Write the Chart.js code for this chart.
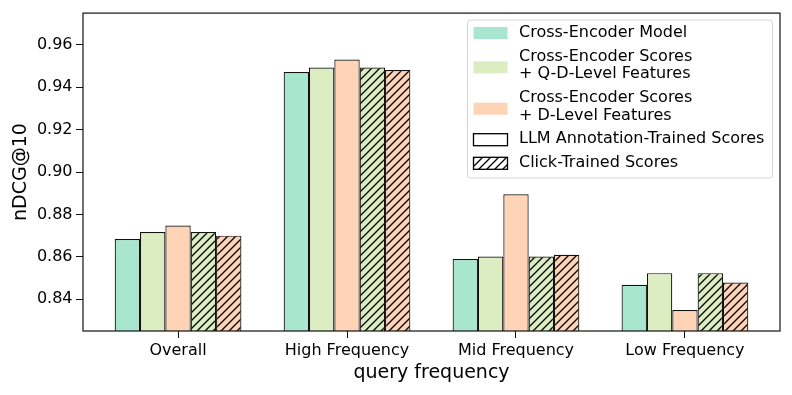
<!DOCTYPE html>
<html>
<head>
<meta charset="utf-8">
<script src="https://cdn.jsdelivr.net/npm/chart.js@4"></script>
<style>
  html, body { margin: 0; padding: 0; background: #fff; }
  #wrap { width: 792px; height: 395px; }
</style>
</head>
<body>
<div id="wrap"><canvas id="chart" width="792" height="395"></canvas></div>
<script>
// query frequency buckets
const groups = ['Overall', 'High Frequency', 'Mid Frequency', 'Low Frequency'];
// nDCG@10 per bucket
const crossEncoder = [0.8684, 0.9472, 0.8590, 0.8468];
const qdLevelLlm   = [0.8717, 0.9493, 0.8601, 0.8523];
const dLevelLlm    = [0.8748, 0.9531, 0.8895, 0.8349];
const qdLevelClick = [0.8717, 0.9493, 0.8601, 0.8523];
const dLevelClick  = [0.8700, 0.9481, 0.8610, 0.8479];
const yTicks = [0.84, 0.86, 0.88, 0.90, 0.92, 0.94, 0.96];

const legendItems = [
  { text: ['Cross-Encoder Model'], kind: 'fill', color: '#a8e6cf' },
  { text: ['Cross-Encoder Scores', '+ Q-D-Level Features'], kind: 'fill', color: '#dcedc1' },
  { text: ['Cross-Encoder Scores', '+ D-Level Features'], kind: 'fill', color: '#ffd3b6' },
  { text: ['LLM Annotation-Trained Scores'], kind: 'empty' },
  { text: ['Click-Trained Scores'], kind: 'hatch' }
];

const FONT = '"DejaVu Sans", sans-serif';
const canvas = document.querySelector('#chart');
const ctx = canvas.getContext('2d');

function hatch(color) {
  const c = document.createElement('canvas');
  c.width = 8; c.height = 8;
  const g = c.getContext('2d');
  g.fillStyle = color;
  g.fillRect(0, 0, 8, 8);
  g.strokeStyle = '#000';
  g.lineWidth = 1.3;
  g.beginPath();
  g.moveTo(0, 8); g.lineTo(8, 0);
  g.moveTo(-2, 2); g.lineTo(2, -2);
  g.moveTo(6, 10); g.lineTo(10, 6);
  g.stroke();
  return ctx.createPattern(c, 'repeat');
}

function pts(arr) {
  return arr.map((v, i) => ({ x: i, y: v }));
}

function ds(label, arr, bg) {
  return {
    label: label,
    data: pts(arr),
    backgroundColor: bg,
    borderColor: '#111',
    borderWidth: 1.2,
    borderSkipped: false
  };
}

const framePlugin = {
  id: 'frame',
  afterDatasetsDraw(chart) {
    const a = chart.chartArea;
    const c = chart.ctx;
    c.save();
    c.strokeStyle = '#111';
    c.lineWidth = 1.2;
    c.strokeRect(a.left, a.top, a.right - a.left, a.bottom - a.top);
    c.restore();
  }
};

const legendPlugin = {
  id: 'boxLegend',
  afterDraw(chart) {
    const c = chart.ctx;
    c.save();
    const bx = 467.5, by = 20, bw = 305, bh = 158, r = 3;
    c.beginPath();
    c.roundRect(bx, by, bw, bh, r);
    c.fillStyle = 'rgba(255,255,255,0.85)';
    c.fill();
    c.strokeStyle = '#d4d4d4';
    c.lineWidth = 1;
    c.stroke();

    const swX = 473.5, swW = 34, swH = 12;
    const textX = 519;
    const swY = [33, 67.3, 108.7, 139.7, 163.3];
    const lineY = [[33.3], [56.7, 74], [98.3, 115.7], [139.3], [163.3]];
    c.font = '16px ' + FONT;
    c.textBaseline = 'middle';
    c.textAlign = 'left';
    legendItems.forEach((it, i) => {
      const y0 = swY[i] - swH / 2;
      if (it.kind === 'fill') {
        c.fillStyle = it.color;
        c.fillRect(swX, y0, swW, swH);
      } else if (it.kind === 'empty') {
        c.fillStyle = '#fff';
        c.fillRect(swX, y0, swW, swH);
        c.strokeStyle = '#000';
        c.lineWidth = 1.3;
        c.strokeRect(swX, y0, swW, swH);
      } else {
        c.fillStyle = hatch('#ffffff');
        c.fillRect(swX, y0, swW, swH);
        c.strokeStyle = '#000';
        c.lineWidth = 1.3;
        c.strokeRect(swX, y0, swW, swH);
      }
      c.fillStyle = '#000';
      it.text.forEach((t, k) => c.fillText(t, textX, lineY[i][k]));
    });
    c.restore();
  }
};

const chart = new Chart(ctx, {
  type: 'bar',
  data: {
    datasets: [
      ds('Cross-Encoder Model', crossEncoder, '#a8e6cf'),
      ds('Q-D-Level (LLM)', qdLevelLlm, '#dcedc1'),
      ds('D-Level (LLM)', dLevelLlm, '#ffd3b6'),
      ds('Q-D-Level (Click)', qdLevelClick, hatch('#dcedc1')),
      ds('D-Level (Click)', dLevelClick, hatch('#ffd3b6'))
    ]
  },
  options: {
    responsive: false,
    animation: false,
    devicePixelRatio: 1,
    categoryPercentage: 0.75,
    barPercentage: 1.0,
    layout: { padding: { top: 12, right: 12, left: 0, bottom: 0 } },
    plugins: {
      legend: { display: false },
      tooltip: { enabled: false }
    },
    scales: {
      x: {
        type: 'linear',
        min: -0.5625,
        max: 3.5625,
        offset: false,
        afterBuildTicks: (s) => { s.ticks = groups.map((g, i) => ({ value: i })); },
        afterFit: (s) => { s.height = 64; },
        grid: { drawOnChartArea: false, drawTicks: true, tickLength: 7, color: '#111', offset: false },
        border: { display: false },
        ticks: {
          color: '#000',
          font: { family: FONT, size: 16 },
          padding: 3,
          maxRotation: 0,
          autoSkip: false,
          callback: (v) => groups[v]
        },
        title: {
          display: true,
          text: 'query frequency',
          color: '#000',
          font: { family: FONT, size: 19 },
          padding: { top: 0, bottom: 11 }
        }
      },
      y: {
        min: 0.825,
        max: 0.975,
        afterBuildTicks: (s) => { s.ticks = yTicks.map(v => ({ value: v })); },
        afterFit: (s) => { s.width = 83; },
        grid: { drawOnChartArea: false, drawTicks: true, tickLength: 7, color: '#111' },
        border: { display: false },
        ticks: {
          color: '#000',
          font: { family: FONT, size: 16 },
          padding: 3.5,
          callback: (v) => v.toFixed(2)
        },
        title: {
          display: true,
          text: 'nDCG@10',
          color: '#000',
          font: { family: FONT, size: 19 },
          padding: { top: 9.5, bottom: 0 }
        }
      }
    }
  },
  plugins: [framePlugin, legendPlugin]
});
</script>
</body>
</html>
